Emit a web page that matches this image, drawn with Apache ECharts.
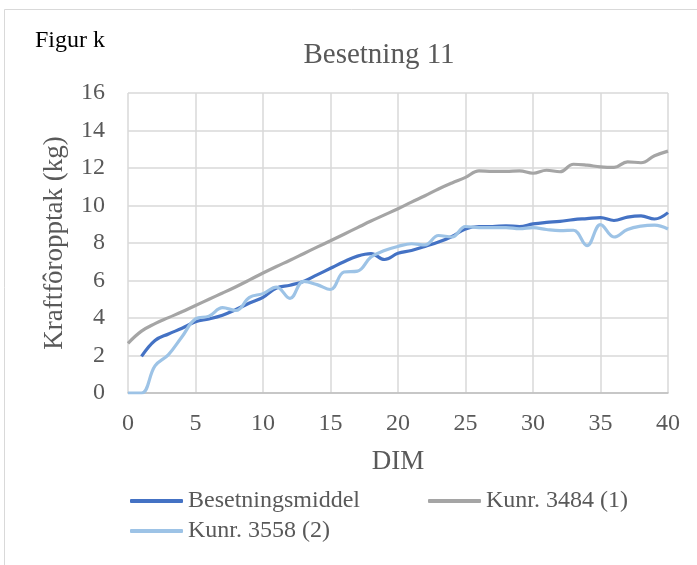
<!DOCTYPE html>
<html>
<head>
<meta charset="utf-8">
<script src="https://cdn.jsdelivr.net/npm/echarts@6/dist/echarts.min.js"></script>
<style>
html,body{margin:0;padding:0;background:#fff;}
#c{width:697px;height:565px;}
</style>
</head>
<body>
<div id="c"></div>
<script>
const dim = [0,1,2,3,4,5,6,7,8,9,10,11,12,13,14,15,16,17,18,19,20,21,22,23,24,25,26,27,28,29,30,31,32,33,34,35,36,37,38,39,40];
const middel = [null,1.95,2.8,3.15,3.45,3.8,3.95,4.15,4.45,4.8,5.1,5.6,5.75,5.95,6.3,6.65,7.0,7.3,7.43,7.12,7.45,7.6,7.82,8.05,8.35,8.75,8.88,8.88,8.92,8.88,9.02,9.1,9.15,9.25,9.3,9.35,9.2,9.38,9.45,9.28,9.62];
const kunr3484 = [2.65,3.3,3.7,4.02,4.33,4.67,5.0,5.33,5.67,6.03,6.4,6.75,7.08,7.43,7.78,8.12,8.47,8.82,9.17,9.5,9.83,10.18,10.52,10.88,11.2,11.5,11.85,11.82,11.82,11.85,11.72,11.88,11.8,12.2,12.15,12.06,12.03,12.33,12.28,12.65,12.9];
const kunr3558 = [0,0,1.45,2.05,3.0,3.95,4.1,4.55,4.4,5.1,5.3,5.65,5.05,5.95,5.78,5.52,6.45,6.5,7.25,7.6,7.82,7.96,7.9,8.4,8.32,8.88,8.82,8.82,8.82,8.76,8.82,8.72,8.66,8.68,7.86,8.98,8.32,8.72,8.9,8.95,8.75];
const seriesNames = ['Besetningsmiddel','Kunr. 3484 (1)','Kunr. 3558 (2)'];
const seriesColors = ['#4472C4','#A5A5A5','#9DC3E6'];
const xTicks = {min:0, max:40, interval:5};
const yTicks = {min:0, max:16, interval:2};

const FONT = '"Liberation Serif","Times New Roman",serif';
function pairs(vals){ return dim.map((d,i)=>[d, vals[i]]); }
const allVals = [middel,kunr3484,kunr3558];

const legendCommon = {
  padding:0, itemWidth:53, itemHeight:4, icon:'roundRect',
  textStyle:{fontFamily:FONT, fontSize:24, color:'#595959'}
};

const chart = echarts.init(document.getElementById('c'), null, {renderer:'canvas'});
chart.setOption({
  backgroundColor:'#fff',
  animation:false,
  textStyle:{fontFamily:FONT},
  title:{
    text:'Besetning 11', left:379, top:41, textAlign:'center', padding:0,
    textStyle:{fontFamily:FONT, fontSize:29, fontWeight:'normal', color:'#595959'}
  },
  graphic:[
    {type:'rect', shape:{x:4.5,y:9.5,width:760,height:640}, style:{fill:null, stroke:'#D9D9D9', lineWidth:1}, silent:true},
    {type:'text', left:35, top:29, style:{text:'Figur k', font:'24px '+FONT, fill:'#000'}}
  ],
  grid:{left:128, right:29, top:93, bottom:172},
  legend:[
    Object.assign({data:[seriesNames[0],seriesNames[1]], left:130, top:489, itemGap:68}, legendCommon),
    Object.assign({data:[seriesNames[2]], left:130, top:519}, legendCommon)
  ],
  xAxis:{
    type:'value', min:xTicks.min, max:xTicks.max, interval:xTicks.interval,
    name:'DIM', nameLocation:'middle', nameGap:55,
    nameTextStyle:{fontFamily:FONT, fontSize:27, color:'#595959'},
    axisLine:{show:true, lineStyle:{color:'#BFBFBF', width:1.5}},
    axisTick:{show:false},
    axisLabel:{fontFamily:FONT, fontSize:24, color:'#595959', margin:19},
    splitLine:{show:true, lineStyle:{color:'#D9D9D9', width:1.5}}
  },
  yAxis:{
    type:'value', min:yTicks.min, max:yTicks.max, interval:yTicks.interval,
    name:'Kraftfôropptak (kg)', nameLocation:'middle', nameGap:60,
    nameTextStyle:{fontFamily:FONT, fontSize:27, color:'#595959'},
    axisLine:{show:false}, axisTick:{show:false},
    axisLabel:{fontFamily:FONT, fontSize:24, color:'#595959', margin:23},
    splitLine:{show:true, lineStyle:{color:'#D9D9D9', width:1.5}}
  },
  series: seriesNames.map((n,i)=>({
    name:n, type:'line', data:pairs(allVals[i]), smooth:0.4, showSymbol:false, symbol:'none',
    lineStyle:{color:seriesColors[i], width:3.2}, itemStyle:{color:seriesColors[i]},
    connectNulls:false, z:2+i
  }))
});
</script>
</body>
</html>
